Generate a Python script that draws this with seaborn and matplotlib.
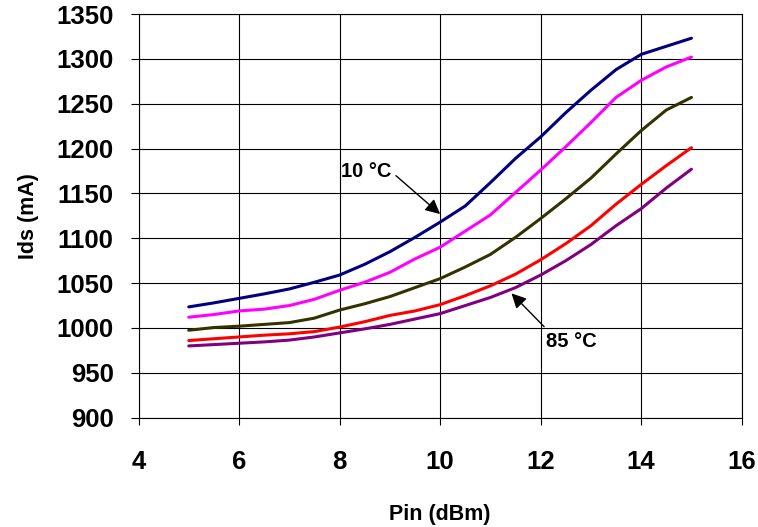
import numpy as np
import pandas as pd
import matplotlib
matplotlib.use("Agg")
import matplotlib.pyplot as plt
from matplotlib import font_manager
import seaborn as sns

pin = [5, 5.5, 6, 6.5, 7, 7.5, 8, 8.5, 9, 9.5, 10, 10.5, 11, 11.5, 12, 12.5, 13, 13.5, 14, 14.5, 15]

ids_blue = [1023.5, 1028, 1033, 1038, 1043.5, 1051, 1059, 1071, 1085, 1101, 1118, 1136, 1162, 1189, 1213, 1240, 1265, 1288, 1305, 1314, 1323]
ids_magenta = [1012, 1015, 1019, 1021, 1025, 1032, 1042, 1051, 1062, 1077, 1090, 1108, 1126, 1151, 1176, 1202, 1229, 1257, 1276, 1291, 1302]
ids_olive = [997.5, 1000.5, 1002, 1004, 1006, 1011, 1020, 1027, 1035, 1045, 1055, 1068, 1082, 1101, 1122, 1144, 1167, 1194, 1220, 1243, 1257]
ids_red = [986, 988, 990, 992, 993.5, 996, 1001, 1007, 1014, 1019, 1026, 1036, 1047, 1060, 1076, 1094, 1114, 1138, 1160, 1181, 1201]
ids_purple = [980, 981.5, 983, 984.5, 986.5, 990, 994.5, 999, 1004, 1010, 1016, 1025, 1034, 1045, 1059, 1075, 1093, 1114, 1133, 1156, 1177]

series_names = ["s1", "s2", "s3", "s4", "s5"]
series_colors = ["#000080", "#FF00FF", "#333300", "#FF0000", "#800080"]

x_ticks = [4, 6, 8, 10, 12, 14, 16]
y_ticks = [900, 950, 1000, 1050, 1100, 1150, 1200, 1250, 1300, 1350]

frames = []
for name, vals in zip(series_names, [ids_blue, ids_magenta, ids_olive, ids_red, ids_purple]):
    frames.append(pd.DataFrame({"Pin": pin, "Ids": vals, "series": name}))
df = pd.concat(frames, ignore_index=True)

sns.set_style("white")
plt.rcParams["font.family"] = ["Liberation Sans", "DejaVu Sans"]
plt.rcParams["text.color"] = "black"
plt.rcParams["axes.labelcolor"] = "black"
plt.rcParams["xtick.color"] = "black"
plt.rcParams["ytick.color"] = "black"

available = {f.name for f in font_manager.fontManager.ttflist}
has_narrow = "Liberation Sans Narrow" in available
narrow = ["Liberation Sans Narrow", "Liberation Sans", "DejaVu Sans"] if has_narrow else ["Liberation Sans", "DejaVu Sans"]
ann_size = 16 if has_narrow else 14.5

fig = plt.figure(figsize=(7.58, 5.27), dpi=100)
ax = fig.add_axes([138.5 / 758, 1 - 417.7 / 527, (741.7 - 138.5) / 758, (417.7 - 14) / 527])

sns.lineplot(data=df, x="Pin", y="Ids", hue="series", palette=series_colors,
             hue_order=series_names, linewidth=2.2, legend=False, ax=ax, sort=True)

ax.set_xlim(4, 16)
ax.set_ylim(900, 1350)
ax.set_xticks(x_ticks)
ax.set_yticks(y_ticks)
ax.set_xticklabels([str(v) for v in x_ticks], fontsize=18.5, fontweight="bold")
ax.set_yticklabels([str(v) for v in y_ticks], fontsize=18.5, fontweight="bold")
ax.tick_params(axis="y", direction="out", length=6, width=0.8, color="black", pad=12, left=True)
ax.tick_params(axis="x", direction="out", length=5, width=0.8, color="black", pad=18, bottom=True)
ax.grid(True, color="black", linewidth=0.8)
ax.set_axisbelow(True)
for s in ax.spines.values():
    s.set_color("black")
    s.set_linewidth(0.8)

ax.set_xlabel("Pin (dBm)", fontsize=15.5, fontweight="bold", labelpad=22)
ax.set_ylabel("Ids (mA)", fontsize=15.5, fontweight="bold", labelpad=12)

ax.annotate("10 °C", xy=(10.0, 1127), xytext=(8.02, 1174), fontsize=ann_size, fontweight="bold",
            family=narrow, va="center", ha="left",
            arrowprops=dict(arrowstyle="-|>", color="black", lw=1, mutation_scale=22,
                            shrinkA=0, shrinkB=0, relpos=(1.1, 0.3)))
ax.annotate("85 °C", xy=(11.42, 1038.6), xytext=(12.1, 984.5), fontsize=ann_size, fontweight="bold",
            family=narrow, va="center", ha="left",
            arrowprops=dict(arrowstyle="-|>", color="black", lw=1, mutation_scale=22,
                            shrinkA=0, shrinkB=0, relpos=(-0.03, 1.3)))

fig.savefig("out.png", dpi=100)
